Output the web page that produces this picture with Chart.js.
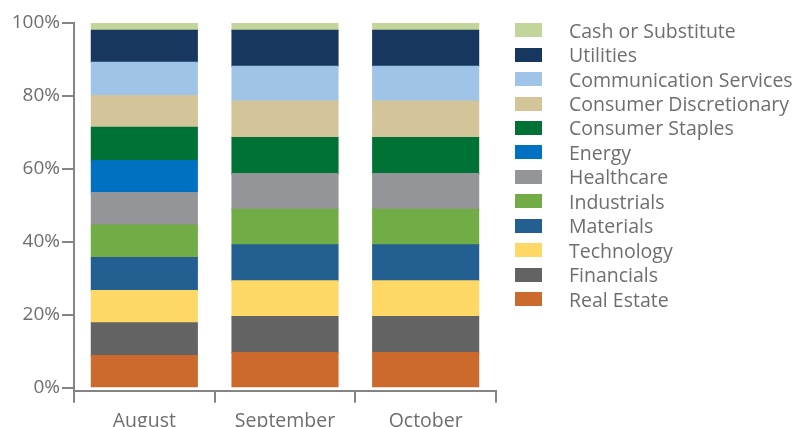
<!DOCTYPE html>
<html>
<head>
<meta charset="utf-8">
<script src="https://cdn.jsdelivr.net/npm/chart.js@4/dist/chart.umd.min.js"></script>
<style>
  html, body { margin: 0; padding: 0; background: #fff; }
  #wrap { position: relative; width: 793px; height: 427px; overflow: hidden; }
  #legend { position: absolute; left: 515px; top: 18px; margin: 0; padding: 0; list-style: none;
            font-family: "Open Sans", sans-serif; font-size: 19.5px; color: #6e6e6e; }
  #legend li { height: 24.45px; display: flex; align-items: center; white-space: nowrap; }
  #legend .box { width: 27px; height: 14px; margin-right: 27px; flex: none; }
</style>
</head>
<body>
<div id="wrap">
  <canvas id="chart" width="793" height="427"></canvas>
  <ul id="legend"></ul>
</div>
<script>
// Datos del gráfico
const meses = ['August', 'September', 'October'];
const sectores = ['Real Estate', 'Financials', 'Technology', 'Materials', 'Industrials', 'Healthcare',
                  'Energy', 'Consumer Staples', 'Consumer Discretionary', 'Communication Services',
                  'Utilities', 'Cash or Substitute'];

const realEstate    = [8.8, 9.6, 9.6];
const financials    = [9.0, 9.9, 9.9];
const technology    = [8.8, 9.8, 9.8];
const materials     = [9.1, 9.9, 9.9];
const industrials   = [8.9, 9.7, 9.7];
const healthcare    = [8.9, 9.8, 9.8];
const energy        = [8.8, 0, 0];
const staples       = [9.1, 9.9, 9.9];
const discretionary = [8.7, 10.0, 10.0];
const communication = [9.1, 9.5, 9.5];
const utilities     = [8.8, 9.9, 9.9];
const cash          = [2.1, 2.1, 2.1];

const yTicks = [0, 20, 40, 60, 80, 100];

const valores = [realEstate, financials, technology, materials, industrials, healthcare,
                 energy, staples, discretionary, communication, utilities, cash];

const colores = ['#cc6a2e', '#636363', '#fdd866', '#245f92', '#71ac47', '#939598',
                 '#0070c0', '#007236', '#d3c49a', '#a0c4e8', '#17375e', '#c2d69b'];

const grisEje = '#848484';
const grisTexto = '#6e6e6e';

const datasets = sectores.map((nombre, i) => ({
    label: nombre,
    data: valores[i],
    backgroundColor: colores[i],
    borderWidth: 0,
    inflateAmount: 0.6,
    categoryPercentage: 1,
    barPercentage: 0.753
}));

const chart = new Chart(document.getElementById('chart'), {
    type: 'bar',
    data: { labels: meses, datasets: datasets },
    options: {
        responsive: false,
        animation: false,
        layout: { padding: { top: 23, right: 297, left: 0, bottom: 0 } },
        plugins: {
            legend: { display: false },
            tooltip: { enabled: false }
        },
        scales: {
            x: {
                stacked: true,
                border: { color: grisEje, width: 2 },
                grid: { drawOnChartArea: false, color: grisEje, lineWidth: 2, tickLength: 12, offset: true },
                ticks: { color: grisTexto, padding: 7, font: { family: 'Open Sans', size: 19.5 } },
                afterFit: (scale) => { scale.height = 36.3; }
            },
            y: {
                stacked: true,
                min: -0.82,
                max: 100,
                border: { color: grisEje, width: 2 },
                grid: { drawOnChartArea: false, color: grisEje, lineWidth: 2, tickLength: 12 },
                ticks: {
                    color: grisTexto, padding: 2,
                    font: { family: 'Open Sans', size: 19 },
                    callback: (v) => v + '%'
                },
                afterBuildTicks: (scale) => { scale.ticks = yTicks.map(v => ({ value: v })); },
                afterFit: (scale) => { scale.width = 74; }
            }
        }
    }
});

// Leyenda en HTML (orden inverso, como en la imagen)
const legend = document.getElementById('legend');
[...datasets].reverse().forEach(ds => {
    const li = document.createElement('li');
    const box = document.createElement('span');
    box.className = 'box';
    box.style.background = ds.backgroundColor;
    const txt = document.createElement('span');
    txt.textContent = ds.label;
    li.appendChild(box);
    li.appendChild(txt);
    legend.appendChild(li);
});
</script>
</body>
</html>
